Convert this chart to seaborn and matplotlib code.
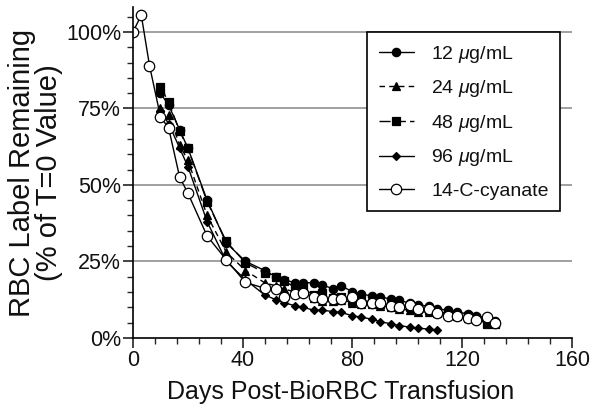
import numpy as np
import pandas as pd
import matplotlib
matplotlib.use("Agg")
import matplotlib.pyplot as plt
import seaborn as sns
from matplotlib.ticker import MultipleLocator, FuncFormatter

days = [10, 13, 17, 20, 27, 34, 41, 48, 52, 55, 59, 62, 66, 69, 73, 76, 80, 83,
        87, 90, 94, 97, 101, 104, 108, 111, 115, 118, 122, 125, 129, 132]
days_96 = days[:26]
days_cyanate = [0, 3, 6] + days

v12 = [80, 76, 68, 62, 45, 31, 25, 22, 20, 19, 18, 18, 18, 17.3, 16, 17, 15, 14.2,
       13.8, 13.5, 12.6, 12.3, 11.3, 10.8, 10.3, 9.5, 9, 8.5, 7.8, 7.3, 6.5, 5.5]
v24 = [75, 73, 63, 58, 40, 28, 22, 18, 17, 16, 15, 15, 13, 12, 12, 12.5, 11.5, 11,
       11, 10.5, 10, 9.5, 9, 8.5, 8.5, 8, 7.5, 7, 6.5, 6, 5.5, 5]
v48 = [82, 77, 67.5, 62, 44.5, 31.5, 24.5, 21.3, 20, 18.7, 16.5, 16, 14, 14.5, 13,
       13.5, 12, 12.5, 11.5, 11, 10.5, 10, 10, 9.5, 9, 8.5, 8, 7.5, 7, 6.5, 4.5, 4.5]
v96 = [74, 70, 62, 56, 38, 25, 19, 14, 12.5, 11.5, 10.5, 10, 9, 9, 8.6, 8.3, 7.2,
       6.8, 6.1, 5.3, 4.6, 4.0, 3.5, 3.2, 2.8, 2.6]
vcy = [100, 105.5, 89, 72.3, 68.5, 52.5, 47.3, 33.3, 25.5, 18.1, 16.2, 15.9, 13.5,
       14.4, 14.8, 13.3, 12.6, 12.6, 12.6, 13.3, 11.5, 11.3, 11.5, 10.5, 10.2, 10.6,
       9.3, 9.4, 8.1, 7.2, 7.2, 6.4, 5.9, 6.8, 5.0]

labels = ["12 $\\mu$g/mL", "24 $\\mu$g/mL", "48 $\\mu$g/mL", "96 $\\mu$g/mL", "14-C-cyanate"]

sns.set_style("white")
plt.rcParams['font.family'] = ['Liberation Sans', 'DejaVu Sans']
plt.rcParams['mathtext.fontset'] = 'custom'
plt.rcParams['mathtext.it'] = 'Liberation Sans:italic'
plt.rcParams['mathtext.rm'] = 'Liberation Sans'

fig = plt.figure(figsize=(6.02, 4.13), dpi=100)
ax = fig.add_axes([0.221, 0.182, 0.729, 0.800])

series = [
    (days, v12, labels[0], dict(marker='o', markersize=6, linestyle='-', markerfacecolor='black')),
    (days, v24, labels[1], dict(marker='^', markersize=6, linestyle=(0, (4, 3)), markerfacecolor='black')),
    (days, v48, labels[2], dict(marker='s', markersize=6, linestyle=(0, (8, 3)), markerfacecolor='black')),
    (days_96, v96, labels[3], dict(marker='D', markersize=4, linestyle='-', markerfacecolor='black')),
    (days_cyanate, vcy, labels[4], dict(marker='o', markersize=7.5, linestyle='-', markerfacecolor='white')),
]

for x, y, lab, kw in series:
    df = pd.DataFrame({"day": x, "pct": y})
    sns.lineplot(data=df, x="day", y="pct", ax=ax, color='black', linewidth=1.0,
                 markeredgecolor='black', markeredgewidth=0.9, label=lab, **kw)

ax.set_xlim(0, 160)
ax.set_ylim(0, 108)
ax.xaxis.set_major_locator(MultipleLocator(40))
ax.xaxis.set_minor_locator(MultipleLocator(8))
ax.yaxis.set_major_locator(MultipleLocator(25))
ax.yaxis.set_minor_locator(MultipleLocator(5))
ax.yaxis.set_major_formatter(FuncFormatter(lambda v, p: f"{int(v)}%"))
ax.set_yticks([0, 25, 50, 75, 100])

for v in [25, 50, 75, 100]:
    ax.axhline(v, color='#999999', linewidth=1.3, zorder=0)

for s in ['top', 'right']:
    ax.spines[s].set_visible(False)
for s in ['left', 'bottom']:
    ax.spines[s].set_color('black')
    ax.spines[s].set_linewidth(1.2)

ax.tick_params(axis='both', which='major', direction='out', length=7, width=1.1,
               labelsize=15.5, colors='#111111', pad=1.5)
ax.tick_params(axis='both', which='minor', direction='out', length=4.5, width=1.0)
ax.tick_params(axis='both', which='both', bottom=True, left=True)

ax.set_xlabel("Days Post-BioRBC Transfusion", fontsize=18, labelpad=7,
              color='#111111')
ax.xaxis.label.set_x(0.473)
ax.set_ylabel("RBC Label Remaining\n(% of T=0 Value)", fontsize=21, labelpad=2,
              linespacing=0.95, color='#111111')

leg = ax.legend(loc='upper left', bbox_to_anchor=(0.533, 0.926), fontsize=14,
                frameon=True, fancybox=False, edgecolor='black', handlelength=1.8,
                labelspacing=0.7, borderpad=0.6, handletextpad=0.9,
                borderaxespad=0)
leg.get_frame().set_linewidth(1.2)
leg.get_frame().set_alpha(1)
for t in leg.get_texts():
    t.set_color('#111111')

fig.savefig("out.png", dpi=100)
